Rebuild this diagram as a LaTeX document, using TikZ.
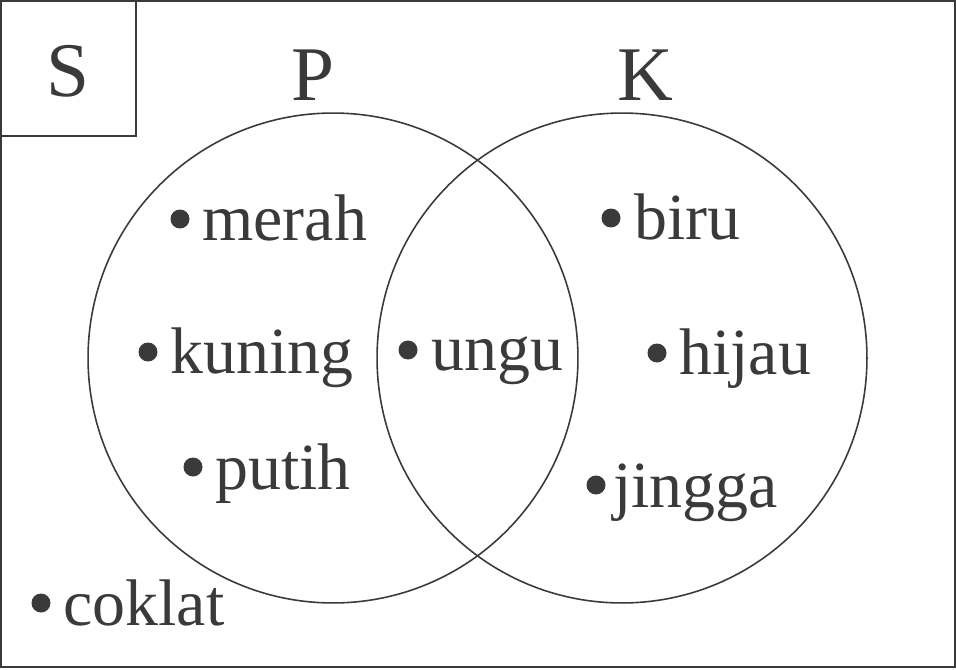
\documentclass[tikz,border=0pt]{standalone}
\usepackage{fontspec}
\setmainfont{Liberation Serif}
\usepackage{tikz}
\usetikzlibrary{positioning}
\definecolor{ink}{HTML}{3A3A3A}

\begin{document}
\begin{tikzpicture}[x=0.02cm, y=-0.02cm, ink,
        setcircle/.style={draw=ink, line width=0.9pt, circle, minimum size=9.8cm, inner sep=0},
        dot/.style={fill=ink, circle, minimum size=0.38cm, inner sep=0},
        item/.style={text=ink, inner sep=0, anchor=base west, font=\fontsize{37.5}{40}\selectfont},
        setlabel/.style={text=ink, inner sep=0, anchor=base, font=\fontsize{44}{48}\selectfont}]
        \useasboundingbox (0,0) rectangle (956,669);
        % Universe
        \draw[line width=1.1pt] (1,1) rectangle (955,667);
        \draw[line width=1.1pt] (1,1) rectangle (136,136);
        \node[setlabel] (S) at (68,96) {S};
        
        % Sets
        \node[setcircle] (setP) at (333,358) {};
        \node[setcircle] (setK) at (622,358) {};
        \node[setlabel] (P) at (313,100) {P};
        \node[setlabel] (K) at (645,101) {K};
        
        % Elements
        \foreach \name/\bx/\by/\tx/\ty in {merah/180/219/202/240, kuning/148/352/170/373,
            putih/193/467/215/489, ungu/408/350/431/370, biru/611/218/634/239,
            hijau/657/353/679/374, jingga/596/485/613/507, coklat/41/603/63/625}
        {
            \node[dot] (b-\name) at (\bx,\by) {};
            \node[item] (\name) at (\tx,\ty) {\name};
        }
    \end{tikzpicture}
\end{document}
